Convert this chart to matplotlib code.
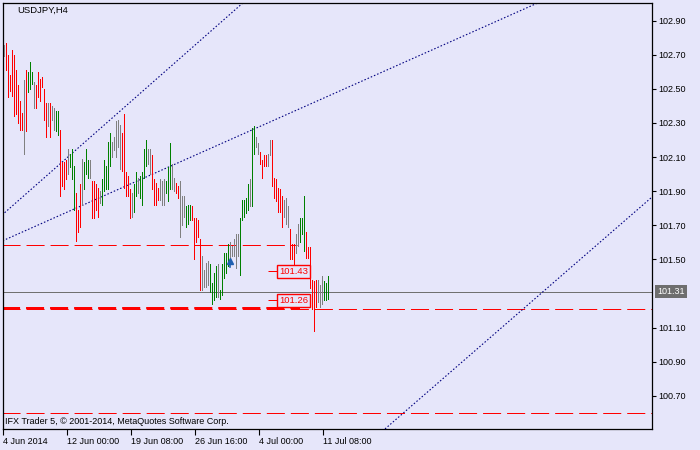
import matplotlib
matplotlib.use('Agg')
import matplotlib.pyplot as plt
import matplotlib.transforms as mtransforms

# --- Data ---
symbol = 'USDJPY,H4'
copyright_text = 'IFX Trader 5, \u00a9 2001-2014, MetaQuotes Software Corp.'

# H4 bars: high, low, and bar type (d = down/red, u = up/green, n = neutral/gray)
highs = [
    102.76, 102.77, 102.70, 102.58, 102.73, 102.70, 102.61, 102.52, 102.43, 102.36,
    102.55, 102.61, 102.60, 102.66, 102.60, 102.54, 102.52, 102.60, 102.56, 102.57,
    102.50, 102.42, 102.42, 102.42, 102.40, 102.39, 102.37, 102.37, 102.26, 102.07,
    102.07, 102.08, 102.15, 102.12, 102.15, 102.05, 101.89, 101.79, 101.94, 102.09,
    102.07, 102.15, 102.08, 102.08, 101.96, 101.96, 101.94, 101.92, 101.90, 101.97,
    102.08, 102.05, 102.19, 102.24, 102.19, 102.22, 102.31, 102.32, 102.29, 102.24,
    102.35, 102.01, 101.99, 101.91, 101.89, 101.94, 102.01, 101.98, 101.99, 102.01,
    102.15, 102.20, 102.15, 102.15, 102.11, 101.97, 101.95, 101.92, 101.97, 101.96,
    101.97, 101.96, 102.04, 102.18, 102.06, 101.98, 101.95, 101.93, 101.96, 101.87,
    101.87, 101.81, 101.82, 101.82, 101.81, 101.74, 101.74, 101.73, 101.62, 101.52,
    101.44, 101.48, 101.49, 101.47, 101.36, 101.42, 101.46, 101.47, 101.32, 101.47,
    101.54, 101.54, 101.59, 101.60, 101.58, 101.62, 101.65, 101.65, 101.74, 101.85,
    101.85, 101.86, 101.94, 101.97, 102.27, 102.28, 102.22, 102.18, 102.13, 102.08,
    102.11, 102.11, 102.12, 102.20, 102.20, 101.98, 101.97, 101.92, 101.91, 101.87,
    101.85, 101.86, 101.81, 101.68, 101.59, 101.59, 101.65, 101.71, 101.74, 101.74,
    101.87, 101.66, 101.57, 101.57, 101.38, 101.37, 101.38, 101.38, 101.35, 101.40,
    101.37, 101.36, 101.40,
]
lows = [
    102.69, 102.61, 102.45, 102.49, 102.46, 102.34, 102.35, 102.30, 102.26, 102.26,
    102.12, 102.25, 102.48, 102.50, 102.53, 102.39, 102.39, 102.45, 102.43, 102.51,
    102.32, 102.22, 102.28, 102.22, 102.32, 102.26, 102.25, 102.23, 101.87, 101.93,
    101.91, 101.97, 102.00, 102.04, 101.97, 101.79, 101.61, 101.66, 101.69, 101.82,
    101.91, 102.00, 101.98, 101.98, 101.74, 101.74, 101.79, 101.75, 101.83, 101.82,
    101.90, 101.91, 101.91, 102.05, 102.10, 102.14, 102.10, 102.16, 102.03, 102.02,
    101.92, 101.87, 101.87, 101.74, 101.75, 101.78, 101.87, 101.89, 101.86, 101.82,
    101.98, 102.05, 102.06, 102.00, 101.91, 101.82, 101.82, 101.85, 101.85, 101.82,
    101.82, 101.89, 101.84, 101.91, 101.91, 101.90, 101.89, 101.86, 101.63, 101.70,
    101.75, 101.69, 101.71, 101.73, 101.73, 101.50, 101.60, 101.63, 101.32, 101.32,
    101.34, 101.34, 101.35, 101.31, 101.24, 101.26, 101.28, 101.28, 101.27, 101.29,
    101.39, 101.42, 101.46, 101.51, 101.52, 101.52, 101.45, 101.52, 101.41, 101.73,
    101.75, 101.77, 101.79, 101.81, 101.81, 102.12, 102.16, 102.12, 102.06, 101.98,
    102.05, 102.05, 102.05, 102.11, 101.93, 101.86, 101.84, 101.78, 101.78, 101.69,
    101.75, 101.71, 101.69, 101.50, 101.50, 101.46, 101.54, 101.58, 101.60, 101.65,
    101.55, 101.51, 101.51, 101.33, 101.21, 101.08, 101.22, 101.25, 101.22, 101.24,
    101.26, 101.26, 101.27,
]
bar_kinds = (
    'nddddddddd' 'nduuunddddddnd' 'nnuuddddnuuudddnuuu'
    'ndddd' 'nuuuuunnnnndddddnuunuuuunndddd' 'nnnuuun'
    'nddnnnuuudddddnnnnuuuunuuuuunnnnnuuuuunuu'
    'nndddd' 'nnddddddnnndddnnuuuddddddnnnuuuu'
)

time_labels = ['4 Jun 2014', '12 Jun 00:00', '19 Jun 08:00', '26 Jun 16:00', '4 Jul 00:00', '11 Jul 08:00']
time_label_bars = [0, 32, 64, 96, 128, 160]
# 101.30 is hidden by the current price box on the scale
price_ticks = [100.70, 100.90, 101.10, 101.50, 101.70, 101.90, 102.10, 102.30, 102.50, 102.70, 102.90]

last_price = 101.31
level_upper = 101.584       # red dashed, left part of chart
level_lower = 101.217       # red dashed, thick, left part of chart
level_lower_full = 101.21   # red dashed, full width
level_bottom = 100.60       # red dashed, full width
level_upper_end = 146.5
level_lower_end = 148

label_prices = [101.43, 101.26]
label_texts = ['101.43', '101.26']

# trend lines as (bar, price) anchor pairs
trend_a = ([-1, 120], [101.76, 103.01])
trend_b = ([-0.65, 268], [101.609, 103.01])
trend_c = ([190.5, 324.15], [100.505, 101.867])

arrow_bar = 113
arrow_price = 101.49

# --- Styling ---
BG = '#E6E6FA'
RED = '#FF0000'
GREEN = '#008000'
GRAY = '#808080'
NAVY = '#000080'
kind_colors = {'d': RED, 'u': GREEN, 'n': GRAY}

plt.rcParams['font.family'] = 'Liberation Sans'
plt.rcParams['lines.scale_dashes'] = False

fig = plt.figure(figsize=(7, 4.5), dpi=100, facecolor=BG)
ax = fig.add_axes([2.5 / 700, 21 / 450, 649.8 / 700, 426.3 / 450])
ax.set_facecolor(BG)

n = len(highs)
xs = list(range(n))
colors = [kind_colors[k] for k in bar_kinds[:n]]
ax.vlines(xs, lows, highs, colors=colors, linewidth=0.5, antialiased=False, zorder=3)


def level(y, x0, x1, lw=0.72, ls=(0, (13, 4.3)), color=RED, z=2):
    # plain Line2D so the horizontal line is snapped to the pixel grid
    ax.plot([x0, x1], [y, y], color=color, linewidth=lw, linestyle=ls, snap=True,
            solid_capstyle='butt', dash_capstyle='butt', zorder=z)


# horizontal levels
level(level_upper, -1, level_upper_end)
level(level_lower, -1, level_lower_end, lw=1.44)
level(level_lower_full, -1, 330)
level(level_bottom, -1, 330)
level(last_price, -1, 330, ls='-', color='#707070')

# trend lines
for tx, ty in (trend_a, trend_b, trend_c):
    ax.plot(tx, ty, color=NAVY, linewidth=0.8, linestyle=(0, (1.1, 1.4)), zorder=2)

# price labels with leader lines
for p, t in zip(label_prices, label_texts):
    level(p, 132, 137, ls='-', z=4)
    ax.text(137.4, p, t, color=RED, fontsize=6.8, ha='left', va='center', zorder=5,
            bbox=dict(boxstyle='square,pad=0.2', fc=BG, ec=RED, lw=1.0))

# arrow
ax.plot([arrow_bar], [arrow_price], marker='^', color='#2060B0', markersize=5, zorder=6)
ax.plot([arrow_bar, arrow_bar], [arrow_price - 0.035, arrow_price - 0.012], color='#2060B0',
        linewidth=1.2, zorder=6)

ax.set_xlim(-0.75, 324.15)
ax.set_ylim(100.5046, 103.0056)

# axes / ticks
ax.yaxis.tick_right()
ax.set_yticks(price_ticks)
ax.set_yticklabels([f'{p:.2f}' for p in price_ticks])
ax.tick_params(axis='y', direction='out', length=3, width=0.8, pad=1.5, labelsize=6.5, colors='black')
ax.set_xticks([b - 0.65 for b in time_label_bars])
ax.set_xticklabels(time_labels, ha='left')
ax.tick_params(axis='x', direction='out', length=4, width=0.8, pad=1.5, labelsize=6.5, colors='black')
for s in ax.spines.values():
    s.set_color('black')
    s.set_linewidth(0.9)

# current price box on the right scale
trans = mtransforms.blended_transform_factory(ax.transAxes, ax.transData)
ax.text(1.0075, last_price, f'{last_price:.2f}', transform=trans, color='white', fontsize=6.5,
        ha='left', va='center', clip_on=False, zorder=7,
        bbox=dict(boxstyle='square,pad=0.25', fc='#6E6E6E', ec='none'))

ax.text(0.022, 0.993, symbol, transform=ax.transAxes, fontsize=6.8, ha='left', va='top')
ax.text(0.004, 0.006, copyright_text, transform=ax.transAxes, fontsize=6.5, ha='left', va='bottom')

fig.savefig('out.png', dpi=100, facecolor=BG)
